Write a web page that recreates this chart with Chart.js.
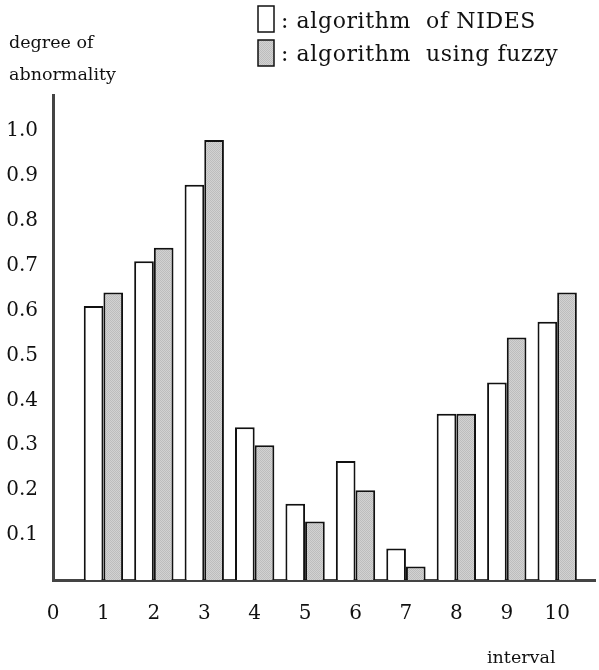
<!DOCTYPE html>
<html>
<head>
<meta charset="utf-8">
<script src="https://cdn.jsdelivr.net/npm/chart.js@4/dist/chart.umd.min.js"></script>
<style>
  body { margin: 0; background: #fff; }
  canvas { display: block; }
</style>
</head>
<body>
<canvas id="chart" width="599" height="670"></canvas>
<script>
// values
const intervals = [1, 2, 3, 4, 5, 6, 7, 8, 9, 10];
const nides = [0.61, 0.71, 0.88, 0.34, 0.17, 0.265, 0.07, 0.37, 0.44, 0.575];
const fuzzy = [0.64, 0.74, 0.98, 0.30, 0.13, 0.20, 0.03, 0.37, 0.54, 0.64];
const xTicks = [0, 1, 2, 3, 4, 5, 6, 7, 8, 9, 10];
const yTicks = [0.1, 0.2, 0.3, 0.4, 0.5, 0.6, 0.7, 0.8, 0.9, 1.0];

const FONT = '"DejaVu Serif", "Liberation Serif", serif';

// grainy gray like the scanned fill
function stipple() {
  const c = document.createElement('canvas');
  c.width = 2; c.height = 2;
  const g = c.getContext('2d');
  g.fillStyle = '#d2d2d2'; g.fillRect(0, 0, 2, 2);
  g.fillStyle = '#bdbdbd'; g.fillRect(0, 0, 1, 1); g.fillRect(1, 1, 1, 1);
  return g.createPattern(c, 'repeat');
}
const GRAY = stipple();

// titles and the hand-made legend
const textPlugin = {
  id: 'texts',
  afterDraw(chart) {
    const ctx = chart.ctx;
    ctx.save();
    ctx.fillStyle = '#111';
    ctx.textBaseline = 'alphabetic';
    ctx.font = '17.5px ' + FONT;
    ctx.fillText('degree of', 9, 48);
    ctx.fillText('abnormality', 9, 80);
    ctx.fillText('interval', 487, 663);

    ctx.lineWidth = 1.5;
    ctx.strokeStyle = '#111';
    ctx.fillStyle = '#fff';
    ctx.fillRect(258, 6, 16, 26);
    ctx.strokeRect(258, 6, 16, 26);
    ctx.fillStyle = GRAY;
    ctx.fillRect(258, 40, 16, 26);
    ctx.strokeRect(258, 40, 16, 26);

    ctx.fillStyle = '#111';
    ctx.font = '22px ' + FONT;
    ctx.letterSpacing = '0.6px';
    ctx.fillText(': algorithm  of NIDES', 281, 28);
    ctx.fillText(': algorithm  using fuzzy', 281, 61);
    ctx.restore();
  }
};

new Chart(document.getElementById('chart'), {
  type: 'bar',
  data: {
    datasets: [{
      label: 'algorithm of NIDES',
      data: intervals.map((x, i) => ({ x: x, y: nides[i] })),
      backgroundColor: '#fff',
      borderColor: '#111',
      borderWidth: 2,
      borderSkipped: 'bottom'
    }, {
      label: 'algorithm using fuzzy',
      data: intervals.map((x, i) => ({ x: x, y: fuzzy[i] })),
      backgroundColor: GRAY,
      borderColor: '#111',
      borderWidth: 2,
      borderSkipped: 'bottom'
    }]
  },
  options: {
    responsive: false,
    devicePixelRatio: 1,
    animation: false,
    categoryPercentage: 0.78,
    barPercentage: 1.0,
    layout: { padding: { top: 95, right: 4, left: 0, bottom: 0 } },
    plugins: {
      legend: { display: false },
      tooltip: { enabled: false }
    },
    scales: {
      x: {
        type: 'linear',
        offset: false,
        min: 0,
        max: 10.75,
        grid: { display: false },
        border: { display: true, color: '#444', width: 3 },
        afterFit: (s) => { s.height = 90; },
        afterBuildTicks: (s) => { s.ticks = xTicks.map(v => ({ value: v })); },
        ticks: {
          padding: 14,
          color: '#111',
          font: { family: FONT, size: 20 },
          callback: (v) => String(v)
        }
      },
      y: {
        min: 0,
        max: 1.08,
        grid: { display: false },
        border: { display: true, color: '#444', width: 3 },
        afterFit: (s) => { s.width = 53; },
        afterBuildTicks: (s) => { s.ticks = yTicks.map(v => ({ value: v })); },
        ticks: {
          padding: 7,
          color: '#111',
          font: { family: FONT, size: 20 },
          callback: (v) => v.toFixed(1)
        }
      }
    }
  },
  plugins: [textPlugin]
});
</script>
</body>
</html>
